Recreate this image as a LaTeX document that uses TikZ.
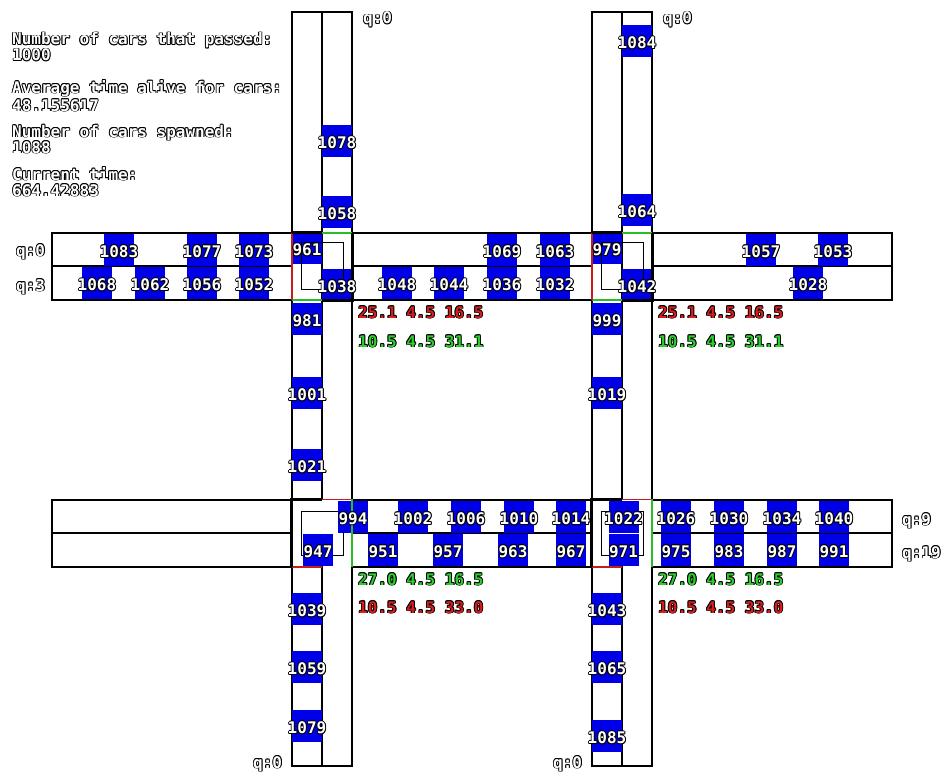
\documentclass[tikz,border=0pt]{standalone}
\usepackage{fontspec}
\setmonofont{DejaVu Sans Mono}
\usepackage{xcolor}
\definecolor{carblue}{RGB}{0,0,232}
\definecolor{stopred}{RGB}{200,28,28}
\definecolor{gogreen}{RGB}{40,190,40}
\definecolor{redtxt}{RGB}{215,30,30}
\definecolor{greentxt}{RGB}{45,205,45}

% outlined text: black copies round a coloured one
\newcommand\ocopy[3]{\rlap{\kern#1\raisebox{#2}{\color{black}#3}}}
\newcommand\otext[2][white]{%
  \ocopy{0.9pt}{0pt}{#2}\ocopy{-0.9pt}{0pt}{#2}%
  \ocopy{0pt}{0.9pt}{#2}\ocopy{0pt}{-0.9pt}{#2}%
  \ocopy{0.7pt}{0.7pt}{#2}\ocopy{-0.7pt}{0.7pt}{#2}%
  \ocopy{0.7pt}{-0.7pt}{#2}\ocopy{-0.7pt}{-0.7pt}{#2}%
  \textcolor{#1}{#2}}

\tikzset{
road/.style = {draw=black, line width=1.1pt, fill=white},
car/.style = {rectangle, fill=carblue, inner sep=0pt, minimum width=30pt, minimum height=32pt},
crossing/.style = {rectangle, inner sep=0pt, minimum width=60pt, minimum height=67pt},
tag/.style = {font=\ttfamily\bfseries\fontsize{16pt}{18pt}\selectfont, inner sep=0pt},
info/.style = {tag, anchor=base west},
route/.style = {draw=black, line width=0.9pt},
redge/.style = {draw=stopred, line width=1.6pt},
gedge/.style = {draw=gogreen, line width=1.6pt},
bedge/.style = {draw=black, line width=3pt}
}

\begin{document}
\begin{tikzpicture}[x=1pt, y=-1pt]

\useasboundingbox[fill=white] (0,0) rectangle (945,776);

% roads
\foreach \x in {292,592} {
  \draw[road] (\x,12) rectangle (\x+60,766);
  \draw[road] (\x+30,12) -- (\x+30,500);
  \draw[road] (\x+30,566) -- (\x+30,766);
}
\foreach \y in {233,500} {
  \foreach \a/\b in {52/292,352/592,652/892} {
    \draw[road] (\a,\y) rectangle (\b,\y+67);
    \draw[road] (\a,\y+33) -- (\b,\y+33);
  }
}

% crossings
\node (ix1) [crossing] at (322,266.5) {};
\node (ix2) [crossing] at (622,266.5) {};
\node (ix3) [crossing] at (322,533) {};
\node (ix4) [crossing] at (622,533) {};

\foreach \n in {3,4}
  \draw[route] ([shift={(10,12)}]ix\n.north west) rectangle ([shift={(-9,-11)}]ix\n.south east);

% cars: id/x/y
\def\cars{1083/119/249.5, 1077/202/249.5, 1073/254/249.5, 1069/502/249.5, 1063/555/249.5,
  1057/761/249.5, 1053/833/249.5, 961/307/248, 979/607/248,
  1068/97/283, 1062/150/283, 1056/202/283, 1052/254/283, 1048/397/283, 1044/449/283,
  1036/502/283, 1032/555/283, 1028/808/283, 1038/337/284.5, 1042/637/284.5,
  994/353/516.5, 1002/413/516.5, 1006/466/516.5, 1010/519/516.5, 1014/571/516.5,
  1022/623.5/516.5, 1026/676/516.5, 1030/729/516.5, 1034/782/516.5, 1040/834/516.5,
  947/318/549.5, 951/383/549.5, 957/448/549.5, 963/513/549.5, 967/571/549.5,
  971/623.5/549.5, 975/676/549.5, 983/729/549.5, 987/782/549.5, 991/834/549.5,
  1078/337/141, 1058/337/212, 981/307/319, 1001/307/393, 1021/307/465,
  1039/307/609, 1059/307/667, 1079/307/726,
  1084/637/41, 1064/637/210, 999/607/319, 1019/607/393,
  1043/607/609, 1065/607/667, 1085/607/736}

\foreach \id/\x/\y in \cars
  \node (c\id) [car] at (\x,\y) {};

% lights round the crossings
\foreach \n in {1,2} {
  \draw[gedge] (ix\n.north) -- (ix\n.north east);
  \draw[gedge] (ix\n.south west) -- (ix\n.south);
  \draw[redge] (ix\n.north west) -- (ix\n.south west);
  \draw[bedge] (ix\n.north west) -- (ix\n.north);
  \draw[bedge] (ix\n.north east) -- (ix\n.south east) -- (ix\n.south);
  \draw[route] ([shift={(10,10)}]ix\n.north west) rectangle ([shift={(-9,-11)}]ix\n.south east);
}
\foreach \n in {3,4} {
  \draw[redge] (ix\n.north) -- (ix\n.north east);
  \draw[redge] (ix\n.south west) -- (ix\n.south);
  \draw[gedge] (ix\n.north east) -- (ix\n.south east);
  \draw[bedge] (ix\n.south west) -- (ix\n.north west) -- (ix\n.north);
}

\foreach \id/\x/\y in \cars
  \node (t\id) [tag, yshift=-2pt] at (c\id) {\otext{\id}};

% stats
\node (passed) [info] at (12,45) {\otext{Number of cars that passed:}};
\node (passedval) [info] at (12,61) {\otext{1000}};
\node (alive) [info] at (12,93) {\otext{Average time alive for cars:}};
\node (aliveval) [info] at (12,111) {\otext{48.155617}};
\node (spawned) [info] at (12,137) {\otext{Number of cars spawned:}};
\node (spawnedval) [info] at (12,153) {\otext{1088}};
\node (clock) [info] at (12,180) {\otext{Current time:}};
\node (clockval) [info] at (12,196) {\otext{664.42883}};

% queues
\node (qn1) [info] at (363,24) {\otext{q:0}};
\node (qn2) [info] at (663,24) {\otext{q:0}};
\node (qw1) [info] at (16,256) {\otext{q:0}};
\node (qw2) [info] at (16,291) {\otext{q:3}};
\node (qe1) [info] at (902,525) {\otext{q:9}};
\node (qe2) [info] at (902,558) {\otext{q:19}};
\node (qs1) [info] at (253,768) {\otext{q:0}};
\node (qs2) [info] at (553,768) {\otext{q:0}};

% timings
\foreach \x in {358,658} {
  \node (ta\x) [info] at (\x,318) {\otext[redtxt]{25.1 4.5 16.5}};
  \node (tb\x) [info] at (\x,347) {\otext[greentxt]{10.5 4.5 31.1}};
  \node (tc\x) [info] at (\x,585) {\otext[greentxt]{27.0 4.5 16.5}};
  \node (td\x) [info] at (\x,613) {\otext[redtxt]{10.5 4.5 33.0}};
}

\end{tikzpicture}
\end{document}
